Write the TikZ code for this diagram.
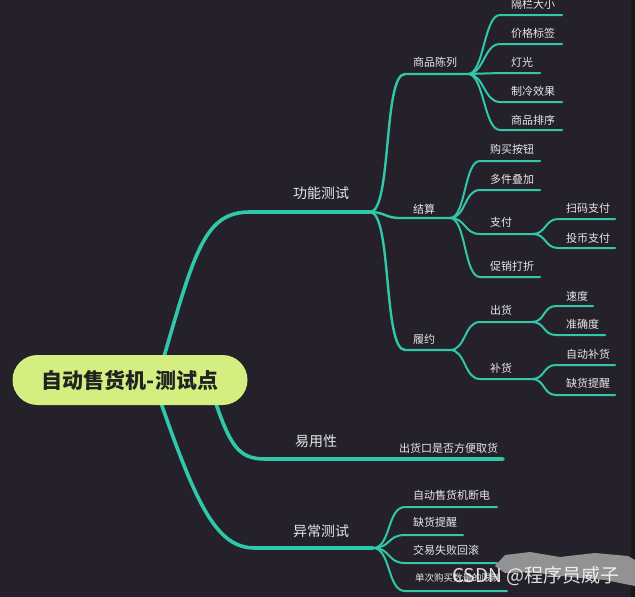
\documentclass[tikz,border=0pt]{standalone}
\usepackage{fontspec}
\setmainfont{Noto Sans CJK SC}
\definecolor{bg}{HTML}{25212B}
\definecolor{edgebg}{HTML}{19171C}
\definecolor{lineclr}{HTML}{30C8A8}
\definecolor{rootfill}{HTML}{D4EE80}
\definecolor{roottxt}{HTML}{222222}
\definecolor{txt}{HTML}{E6E6E6}
\tikzset{
  mainline/.style={draw=lineclr, line width=3.6pt, line cap=round},
  subline/.style={draw=lineclr, line width=2.4pt, line cap=round},
  leafline/.style={draw=lineclr, line width=2pt, line cap=round},
  lbl/.style={text=txt, font=\fontsize{11}{13}\selectfont, anchor=west, inner sep=0pt},
  mlbl/.style={text=txt, font=\fontsize{14}{16}\selectfont, anchor=west, inner sep=0pt},
}
\begin{document}
\begin{tikzpicture}[x=1pt,y=-1pt]
\fill[bg] (0,0) rectangle (635,597);
\fill[edgebg] (631,0) rectangle (635,597);
\useasboundingbox (0,0) rectangle (635,597);

% anchor coordinates
\coordinate (rA) at (163,360);
\coordinate (rB) at (214,398);
\coordinate (rC) at (160,400);
\coordinate (F) at (370,212);
\coordinate (U) at (503,459);
\coordinate (E) at (373,548);

% main branches
\draw[mainline] (rA) .. controls (195,250) and (205,212) .. (250,212) -- (F);
\draw[mainline] (rB) .. controls (230,445) and (238,459) .. (265,459) -- (U);
\draw[mainline] (rC) .. controls (198,510) and (218,548) .. (255,548) -- (E);

% second level from 功能测试
\coordinate (s1a) at (405,74);  \coordinate (S1) at (468,74);
\coordinate (s2a) at (400,218); \coordinate (S2) at (450,218);
\coordinate (s3a) at (405,350); \coordinate (S3) at (450,350);
\draw[subline] (F) .. controls +(22,0) and +(-22,0) .. (s1a) -- (S1);
\draw[subline] (F) .. controls +(15,0) and +(-15,0) .. (s2a) -- (S2);
\draw[subline] (F) .. controls +(22,0) and +(-22,0) .. (s3a) -- (S3);

% leaves of 商品陈列
\coordinate (a1s) at (500,15);  \coordinate (a1e) at (562,15);
\coordinate (a2s) at (500,44);  \coordinate (a2e) at (562,44);
\coordinate (a3s) at (500,73);  \coordinate (a3e) at (540,73);
\coordinate (a4s) at (500,102); \coordinate (a4e) at (562,102);
\coordinate (a5s) at (500,130); \coordinate (a5e) at (562,130);
\foreach \i in {1,...,5}{
  \draw[leafline] (S1) .. controls +(16,0) and +(-16,0) .. (a\i s) -- (a\i e);
}

% leaves of 结算
\coordinate (P) at (533,234);
\coordinate (b1s) at (480,161); \coordinate (b1e) at (540,161);
\coordinate (b2s) at (480,190); \coordinate (b2e) at (540,190);
\coordinate (b3s) at (480,234); \coordinate (b3e) at (533,234);
\coordinate (b4s) at (480,277); \coordinate (b4e) at (540,277);
\foreach \i in {1,...,4}{
  \draw[leafline] (S2) .. controls +(16,0) and +(-16,0) .. (b\i s) -- (b\i e);
}
\coordinate (p1s) at (558,219); \coordinate (p1e) at (615,219);
\coordinate (p2s) at (558,248); \coordinate (p2e) at (615,248);
\foreach \i in {1,2}{
  \draw[leafline] (P) .. controls +(13,0) and +(-13,0) .. (p\i s) -- (p\i e);
}

% leaves of 履约
\coordinate (C1) at (532,322);
\coordinate (C2) at (532,379);
\coordinate (c1s) at (480,322);
\coordinate (c2s) at (480,379);
\draw[leafline] (S3) .. controls +(16,0) and +(-16,0) .. (c1s) -- (C1);
\draw[leafline] (S3) .. controls +(16,0) and +(-16,0) .. (c2s) -- (C2);
\coordinate (d1s) at (556,306); \coordinate (d1e) at (593,306);
\coordinate (d2s) at (556,335); \coordinate (d2e) at (605,335);
\coordinate (d3s) at (556,365); \coordinate (d3e) at (615,365);
\coordinate (d4s) at (556,395); \coordinate (d4e) at (615,395);
\draw[leafline] (C1) .. controls +(13,0) and +(-13,0) .. (d1s) -- (d1e);
\draw[leafline] (C1) .. controls +(13,0) and +(-13,0) .. (d2s) -- (d2e);
\draw[leafline] (C2) .. controls +(13,0) and +(-13,0) .. (d3s) -- (d3e);
\draw[leafline] (C2) .. controls +(13,0) and +(-13,0) .. (d4s) -- (d4e);

% leaves of 异常测试
\coordinate (e1s) at (405,507); \coordinate (e1e) at (497,507);
\coordinate (e2s) at (405,535); \coordinate (e2e) at (463,535);
\coordinate (e3s) at (405,563); \coordinate (e3e) at (497,563);
\coordinate (e4s) at (405,591); \coordinate (e4e) at (507,591);
\foreach \i in {1,...,4}{
  \draw[leafline] (E) .. controls +(18,0) and +(-18,0) .. (e\i s) -- (e\i e);
}

% root
\node[fill=rootfill, rounded corners=25pt, minimum width=235pt, minimum height=50pt,
      inner sep=0pt, text=roottxt, font=\fontsize{21}{24}\selectfont\bfseries] (root) at (130,380) {自动售货机-测试点};

% labels
\node[mlbl] (n1) at (293,193) {功能测试};
\node[mlbl] (n2) at (295,441) {易用性};
\node[mlbl] (n3) at (293,531) {异常测试};

\node[lbl] (n11) at (413,62) {商品陈列};
\node[lbl] (n12) at (413,209) {结算};
\node[lbl] (n13) at (413,339) {履约};

\node[lbl] (a1) at (511,4) {隔栏大小};
\node[lbl] (a2) at (511,33) {价格标签};
\node[lbl] (a3) at (511,62) {灯光};
\node[lbl] (a4) at (511,91) {制冷效果};
\node[lbl] (a5) at (511,120) {商品排序};

\node[lbl] (b1) at (490,149) {购买按钮};
\node[lbl] (b2) at (490,179) {多件叠加};
\node[lbl] (b3) at (490,222) {支付};
\node[lbl] (b4) at (490,266) {促销打折};
\node[lbl] (p1) at (566,208) {扫码支付};
\node[lbl] (p2) at (566,238) {投币支付};

\node[lbl] (c1) at (490,310) {出货};
\node[lbl] (c2) at (490,368) {补货};
\node[lbl] (d1) at (566,296) {速度};
\node[lbl] (d2) at (566,324) {准确度};
\node[lbl] (d3) at (566,354) {自动补货};
\node[lbl] (d4) at (566,383) {缺货提醒};

\node[lbl] (u1) at (399,448) {出货口是否方便取货};

\node[lbl] (e1) at (413,495) {自动售货机断电};
\node[lbl] (e2) at (413,522) {缺货提醒};
\node[lbl] (e3) at (413,550) {交易失败回滚};
\node[lbl, font=\fontsize{9.5}{11}\selectfont] (e4) at (415,578) {单次购买数量的限制};

% watermark
\fill[gray!75, opacity=0.9] (495,566) -- (505,555) -- (530,552) -- (560,557) -- (595,553) -- (628,556) -- (635,560) -- (635,586) -- (605,580) -- (570,577) -- (530,572) -- (505,573) -- cycle;
\node[anchor=west, inner sep=0pt, text=white, opacity=0.85, font=\fontsize{19}{22}\selectfont] (wm) at (452,576) {CSDN @程序员威子};
\end{tikzpicture}
\end{document}
